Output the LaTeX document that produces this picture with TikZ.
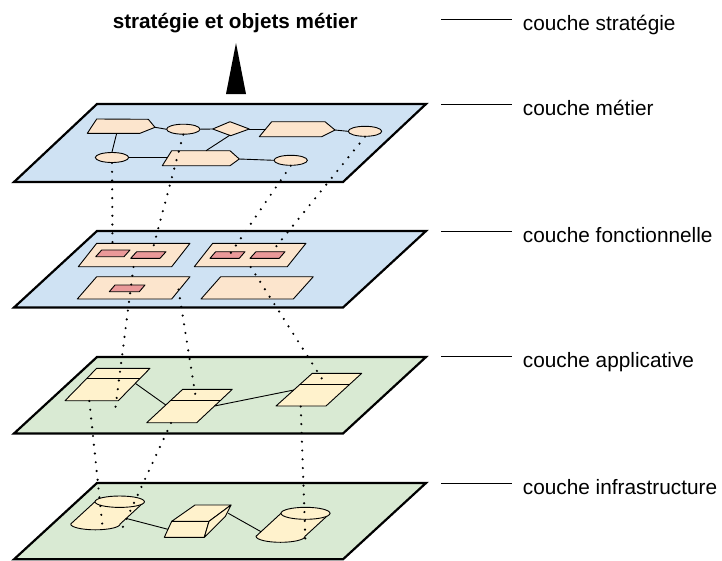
\documentclass[tikz,border=0pt]{standalone}
\usepackage{fontspec}
\setmainfont{Liberation Sans}
\usetikzlibrary{shapes.geometric}
\definecolor{planeblue}{HTML}{CFE2F3}
\definecolor{planegreen}{HTML}{D9EAD3}
\definecolor{peach}{HTML}{FCE5CD}
\definecolor{pinkbox}{HTML}{EA9999}
\definecolor{paleyellow}{HTML}{FFF2CC}
\begin{document}
\begin{tikzpicture}[x=1pt,y=-1pt,
  plane/.style={draw=black, line width=2.2pt, line join=miter},
  shp/.style={draw=black, line width=0.9pt, line join=round},
  link/.style={draw=black, line width=0.9pt},
  dotline/.style={draw=black, line width=2.4pt, line cap=round, dash pattern=on 0pt off 8.8pt},
  oval/.style={ellipse, draw=black, line width=0.9pt, fill=peach, inner sep=0pt, minimum width=33.4pt, minimum height=10pt},
  lbl/.style={anchor=base west, font=\fontsize{20.8}{24}\selectfont, inner sep=0pt},
  tick/.style={draw=black, line width=0.8pt}
]
\fill[white] (0,0) rectangle (722,560);
\useasboundingbox (0,0) rectangle (722,560);

% ---------- title and arrow ----------
\node[font=\bfseries\fontsize{20.7}{24}\selectfont, anchor=base, inner sep=0pt] (title) at (235.3,28.3) {stratégie et objets métier};
\fill[black] (236,43) -- (246,94) -- (226,94) -- cycle;

% ---------- right labels ----------
\coordinate (t0a) at (441,19.5);  \coordinate (t0b) at (512,19.5);
\coordinate (t1a) at (441,104.3); \coordinate (t1b) at (512,104.3);
\coordinate (t2a) at (441,231.5); \coordinate (t2b) at (512,231.5);
\coordinate (t3a) at (441,356.5); \coordinate (t3b) at (512,356.5);
\coordinate (t4a) at (441,483);   \coordinate (t4b) at (512,483);
\draw[tick] (t0a) -- (t0b);
\draw[tick] (t1a) -- (t1b);
\draw[tick] (t2a) -- (t2b);
\draw[tick] (t3a) -- (t3b);
\draw[tick] (t4a) -- (t4b);
\node[lbl] (l0) at (522.7,30.5) {couche stratégie};
\node[lbl] (l1) at (522.7,115.3) {couche métier};
\node[lbl] (l2) at (522.7,242.8) {couche fonctionnelle};
\node[lbl] (l3) at (522.7,367.5) {couche applicative};
\node[lbl] (l4) at (522.7,494) {couche infrastructure};

% ---------- planes ----------
\draw[plane, fill=planeblue]  (97,104) -- (426,104) -- (343,182) -- (14,182) -- cycle;
\draw[plane, fill=planeblue]  (97,231) -- (426,231) -- (343,307.5) -- (14,307.5) -- cycle;
\draw[plane, fill=planegreen] (97,357) -- (426,357) -- (343,433.5) -- (14,433.5) -- cycle;
\draw[plane, fill=planegreen] (97,483) -- (426,483) -- (343,559.3) -- (14,559.3) -- cycle;

% ---------- couche metier ----------
\draw[shp, fill=peach] (87.3,133.3) -- (96.7,119) -- (148.3,119.3) -- (155,127.3) -- (140,133.3) -- cycle;
\coordinate (p1tip) at (155,127.3);
\coordinate (p1bot) at (116.7,133.3);
\draw[shp, fill=peach] (259.3,136.7) -- (271.7,121.7) -- (325,121.7) -- (335,130) -- (321.7,136.7) -- cycle;
\coordinate (p2l) at (265.7,129);
\coordinate (p2tip) at (335,130);
\draw[shp, fill=peach] (162.3,165.7) -- (171.7,150.7) -- (230,150.7) -- (239.3,159) -- (230,165.7) -- cycle;
\coordinate (p3l) at (167.4,157.5);
\coordinate (p3top) at (206,150.7);
\coordinate (p3tip) at (239.3,159);
\draw[shp, fill=peach] (212.7,129) -- (230,121.7) -- (249.3,129) -- (230.7,135.7) -- cycle;
\coordinate (dl) at (212.7,129);
\coordinate (dr) at (249.3,129);
\coordinate (db) at (230.2,135);
\node[oval] (e1) at (183.3,129.2) {};
\node[oval] (e2) at (365,131.3) {};
\node[oval] (e3) at (112,157.5) {};
\node[oval] (e4) at (290.7,160.3) {};
\draw[link] (p1tip) -- (e1.west);
\draw[link] (e1.east) -- (dl);
\draw[link] (dr) -- (p2l);
\draw[link] (p2tip) -- (e2.west);
\draw[link] (p1bot) -- (e3.north);
\draw[link] (e3.east) -- (p3l);
\draw[link] (db) -- (p3top);
\draw[link] (p3tip) -- (e4.west);

% ---------- couche fonctionnelle ----------
\draw[shp, fill=peach] (78.3,266.7) -- (96.7,243.3) -- (190,243.3) -- (171.7,266.7) -- cycle;
\draw[shp, fill=pinkbox] (95.7,256.7) -- (101.7,250) -- (130,250) -- (124,256.7) -- cycle;
\draw[shp, fill=pinkbox] (130.7,258.3) -- (136.7,251.7) -- (166,251.7) -- (160,258.3) -- cycle;
\draw[shp, fill=peach] (194.3,266.7) -- (212.7,243.3) -- (306,243.3) -- (287.3,266.7) -- cycle;
\draw[shp, fill=pinkbox] (210,258.3) -- (215.7,251.7) -- (245,251.7) -- (239.3,258.3) -- cycle;
\draw[shp, fill=pinkbox] (250,258.3) -- (256,251.7) -- (285,251.7) -- (279.3,258.3) -- cycle;
\draw[shp, fill=peach] (77.3,299) -- (96.7,276.7) -- (190,276.7) -- (171.7,299) -- cycle;
\draw[shp, fill=pinkbox] (109.3,291.7) -- (115,285) -- (145,285) -- (139.3,291.7) -- cycle;
\draw[shp, fill=peach] (201,299) -- (220.7,276.7) -- (313.3,276.7) -- (293.3,299) -- cycle;
\coordinate (f1) at (112.5,247);
\coordinate (f2) at (152.5,250);
\coordinate (f3) at (229,255.5);
\coordinate (f4) at (272.5,251);
\coordinate (fa) at (133.5,267);
\coordinate (fc) at (178.5,289.5);
\coordinate (fb) at (250.7,267);

% ---------- couche applicative ----------
\draw[shp, fill=paleyellow] (65,400.7) -- (96.7,368.3) -- (150,368.3) -- (118.3,400.7) -- cycle;
\draw[shp] (86.9,378.3) -- (140.2,378.3);
\draw[shp, fill=paleyellow] (146.7,422.7) -- (182.7,389.3) -- (232.3,389.3) -- (196.7,422.7) -- cycle;
\draw[shp] (171.2,400) -- (220.9,400);
\draw[shp, fill=paleyellow] (276,406) -- (312.3,373.3) -- (361.7,373.3) -- (326,406) -- cycle;
\draw[shp] (300.4,384) -- (350,384);
\coordinate (b1r) at (135.3,383.3);
\coordinate (b2l) at (165.8,405);
\coordinate (b2r) at (214.5,406);
\coordinate (b3l) at (293.8,390);
\draw[link] (b1r) -- (b2l);
\draw[link] (b2r) -- (b3l);
\coordinate (a1in) at (115,411);
\coordinate (a2in) at (195.7,397);
\coordinate (a3in) at (324,382);
\coordinate (a1out) at (89.3,401);
\coordinate (a2out) at (171,423);
\coordinate (a3out) at (300.7,406.5);

% ---------- couche infrastructure ----------
\draw[shp, fill=paleyellow] (95,501.7) -- (70.7,524) arc[start angle=180, end angle=360, x radius=24.7pt, y radius=5.8pt] -- (144.4,501.7) -- cycle;
\draw[shp, fill=paleyellow] (119.7,501.7) ellipse[x radius=24.7pt, y radius=5.7pt];
\draw[shp, fill=paleyellow] (281,513.3) -- (256,536.3) arc[start angle=180, end angle=360, x radius=24.5pt, y radius=6pt] -- (330,513.3) -- cycle;
\draw[shp, fill=paleyellow] (305.5,513.3) ellipse[x radius=24.5pt, y radius=6pt];
\draw[shp, fill=paleyellow] (171.7,521.3) -- (209,521.3) -- (204.3,537.3) -- (164.3,537.3) -- cycle;
\draw[shp, fill=paleyellow] (171.7,521.3) -- (195,505) -- (231,505) -- (209,521.3) -- cycle;
\draw[shp, fill=paleyellow] (209,521.3) -- (231,505) -- (225.3,516.5) -- (204.3,537.3) -- cycle;
\coordinate (c1r) at (126.5,518.5);
\coordinate (cbl) at (168,529.3);
\coordinate (cbr) at (228.3,513.3);
\coordinate (c2l) at (261,531.7);
\draw[link] (c1r) -- (cbl);
\draw[link] (cbr) -- (c2l);
\coordinate (i1) at (102.7,528.3);
\coordinate (i2) at (121,531);
\coordinate (i3) at (305.5,543);

% ---------- dotted links ----------
\draw[dotline] (e3.south) -- (f1);
\draw[dotline] (e1.south) -- (f2);
\draw[dotline] (e4.south) -- (f3);
\draw[dotline] (e2.south) -- (f4);
\draw[dotline] (fa) -- (a1in);
\draw[dotline] (fc) -- (a2in);
\draw[dotline] (fb) -- (a3in);
\draw[dotline] (a1out) -- (i1);
\draw[dotline] (a2out) -- (i2);
\draw[dotline] (a3out) -- (i3);
\end{tikzpicture}
\end{document}
